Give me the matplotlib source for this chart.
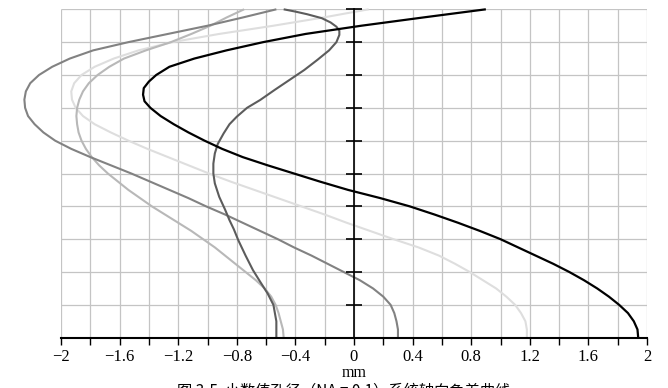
import numpy as np
import matplotlib
matplotlib.use('Agg')
import matplotlib.pyplot as plt

# aperture height (0..10) and transverse offset in mm for each curve
y_black = [0, 0.25, 0.5, 0.75, 1.0, 1.25, 1.5, 1.75, 2.0, 2.25, 2.5, 2.75, 3.0, 3.25, 3.5,
           3.75, 4.0, 4.25, 4.5, 4.75, 5.0, 5.25, 5.5, 5.75, 6.0, 6.25, 6.5, 6.75, 7.0, 7.2,
           7.4, 7.6, 7.8, 8.0, 8.25, 8.5, 8.75, 9.0, 9.25, 9.5, 9.75, 10]
x_black = [1.94, 1.935, 1.91, 1.87, 1.81, 1.74, 1.66, 1.57, 1.47, 1.36, 1.24, 1.12, 1.0, 0.86,
           0.71, 0.55, 0.38, 0.18, -0.04, -0.23, -0.41, -0.59, -0.76, -0.90, -1.02, -1.13,
           -1.23, -1.32, -1.39, -1.43, -1.44, -1.435, -1.40, -1.35, -1.26, -1.09, -0.87, -0.62,
           -0.33, 0.05, 0.47, 0.9]

y_dark = [0, 0.5, 1.0, 1.35, 1.7, 2.06, 2.5, 2.97, 3.3, 3.58, 3.9, 4.29, 4.7, 5.0, 5.3,
          5.61, 5.9, 6.22, 6.5, 6.73, 7.0, 7.24, 7.55, 7.85, 8.15, 8.46, 8.75, 9.0, 9.22,
          9.35, 9.47, 9.6, 9.73, 9.85, 9.93, 10.0]
x_dark = [-0.53, -0.53, -0.55, -0.59, -0.64, -0.69, -0.74, -0.79, -0.82, -0.85, -0.88, -0.92,
          -0.95, -0.96, -0.96, -0.95, -0.93, -0.89, -0.85, -0.80, -0.73, -0.64, -0.54, -0.44,
          -0.34, -0.25, -0.17, -0.12, -0.10, -0.10, -0.12, -0.16, -0.22, -0.32, -0.40, -0.48]

y_mid = [0, 0.25, 0.5, 0.75, 1.0, 1.25, 1.5, 1.75, 2.0, 2.25, 2.5, 2.75, 3.0, 3.25, 3.5,
         3.75, 4.0, 4.25, 4.5, 4.75, 5.0, 5.25, 5.5, 5.75, 6.0, 6.25, 6.5, 6.75, 7.0, 7.25,
         7.5, 7.75, 8.0, 8.25, 8.5, 8.75, 9.0, 9.25, 9.5, 9.75, 10.0]
x_mid = [0.30, 0.30, 0.29, 0.275, 0.25, 0.20, 0.13, 0.04, -0.07, -0.18, -0.29, -0.41, -0.52,
         -0.64, -0.76, -0.88, -1.01, -1.13, -1.26, -1.39, -1.52, -1.66, -1.80, -1.93, -2.04,
         -2.12, -2.18, -2.225, -2.245, -2.25, -2.24, -2.21, -2.15, -2.06, -1.94, -1.78, -1.54,
         -1.27, -1.00, -0.76, -0.53]

y_light = [0, 0.25, 0.5, 0.75, 1.0, 1.25, 1.5, 1.75, 2.0, 2.25, 2.5, 2.75, 3.0, 3.25, 3.5,
           3.75, 4.0, 4.25, 4.5, 4.75, 5.0, 5.25, 5.5, 5.75, 6.0, 6.25, 6.5, 6.75, 7.0, 7.25,
           7.5, 7.75, 8.0, 8.25, 8.5, 8.75, 9.0, 9.25, 9.5, 9.75, 10.0]
x_light = [-0.48, -0.485, -0.50, -0.515, -0.535, -0.565, -0.61, -0.67, -0.74, -0.81, -0.88,
           -0.95, -1.03, -1.11, -1.20, -1.29, -1.38, -1.46, -1.54, -1.61, -1.68, -1.74, -1.79,
           -1.83, -1.86, -1.88, -1.89, -1.895, -1.89, -1.875, -1.85, -1.81, -1.75, -1.67,
           -1.57, -1.42, -1.25, -1.11, -0.98, -0.87, -0.75]

y_pale = [0, 0.25, 0.5, 0.75, 1.0, 1.25, 1.5, 1.75, 2.0, 2.25, 2.5, 2.75, 3.0, 3.25, 3.5,
          3.75, 4.0, 4.25, 4.5, 4.75, 5.0, 5.25, 5.5, 5.75, 6.0, 6.25, 6.5, 6.75, 7.0, 7.25,
          7.5, 7.75, 8.0, 8.25, 8.5, 8.75, 9.0, 9.25, 9.5, 9.75, 10.0]
x_pale = [1.18, 1.18, 1.17, 1.14, 1.10, 1.04, 0.97, 0.88, 0.79, 0.69, 0.58, 0.44, 0.27, 0.11,
          -0.05, -0.20, -0.36, -0.52, -0.68, -0.84, -0.99, -1.13, -1.27, -1.41, -1.54, -1.66,
          -1.77, -1.85, -1.90, -1.925, -1.93, -1.91, -1.86, -1.77, -1.64, -1.47, -1.24, -0.92,
          -0.55, -0.21, 0.1]

x_ticks = np.round(np.arange(-2, 2.01, 0.4), 1)
x_minor = np.round(np.arange(-2, 2.01, 0.2), 1)
y_grid = np.arange(0, 11, 1)

fig = plt.figure(figsize=(6.68, 3.88), dpi=100)
ax = fig.add_axes([61 / 668, 50.3 / 388, 586 / 668, 328.4 / 388])
ax.set_xlim(-2, 2)
ax.set_ylim(0, 10)

# grid
grid_c = '#c4c4c4'
ax.vlines(x_minor, 0, 10, colors=grid_c, lw=0.9, zorder=1)
ax.hlines(y_grid, -2, 2, colors=grid_c, lw=0.9, zorder=1)

# curves
style = dict(clip_on=False, solid_joinstyle='round', solid_capstyle='butt')
ax.plot(x_pale, y_pale, color='#dedede', lw=1.5, zorder=3, **style)
ax.plot(x_light, y_light, color='#b8b8b8', lw=1.5, zorder=3, **style)
ax.plot(x_mid, y_mid, color='#828282', lw=1.5, zorder=3, **style)
ax.plot(x_dark, y_dark, color='#5c5c5c', lw=1.5, zorder=3, **style)
ax.plot(x_black, y_black, color='#000000', lw=1.6, zorder=4, **style)

# vertical axis at x=0 with crossing ticks
ax.plot([0, 0], [0, 10], color='black', lw=1.2, zorder=5, clip_on=False)
ax.plot(np.zeros(len(y_grid)), y_grid, ls='none', marker='_', markersize=11,
        markeredgewidth=1.2, color='black', zorder=5, clip_on=False)

for s in ['top', 'right', 'left']:
    ax.spines[s].set_visible(False)
ax.spines['bottom'].set_linewidth(1.5)
ax.spines['bottom'].set_zorder(6)
ax.set_yticks([])
ax.set_xticks(x_ticks)
ax.set_xticks(x_minor, minor=True)
ax.set_xticklabels(['0' if v == 0 else ('%g' % v).replace('-', '\u2212') for v in x_ticks],
                   family='Liberation Serif', fontsize=12)
ax.tick_params(axis='x', which='both', direction='out', length=5, width=1.0, pad=3)
ax.set_xlabel('mm', family='Liberation Serif', fontsize=11.5, labelpad=0)

fig.text(0.515, 0.014, '图 3-5  小数值孔径（NA = 0.1）系统轴向色差曲线', ha='center', va='top',
         fontsize=11, family=['Noto Sans CJK SC', 'DejaVu Sans'])

fig.savefig('out.png', dpi=100)
